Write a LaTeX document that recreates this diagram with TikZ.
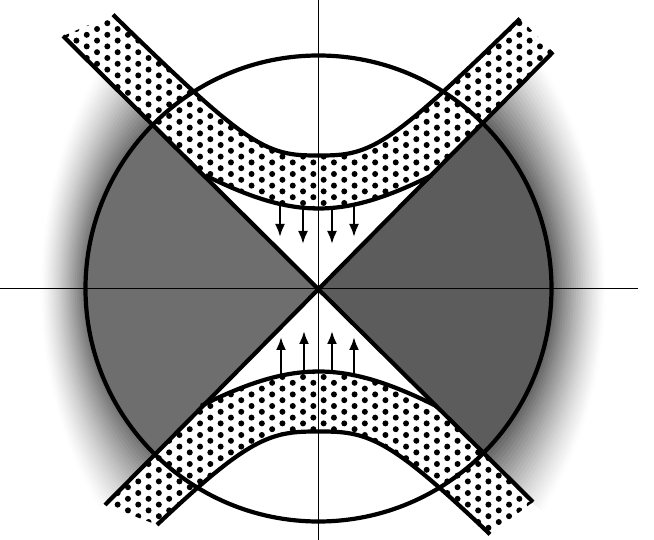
\documentclass[tikz,border=0pt]{standalone}
\usetikzlibrary{arrows.meta}
\begin{document}
\begin{tikzpicture}[x=1pt,y=-1pt,
  heavy/.style={line width=4.2pt},
  axisline/.style={line width=1.4pt},
  arr/.style={line width=2.3pt,-{Latex[length=13pt,width=10pt]}},
  declare function={
    fou(\u)=66+100*((0.67)^3+(abs(\u)/100)^3)^(1/3);
    fol(\u)=70+100*((0.73)^3+(abs(\u)/100)^3)^(1/3);
    fiu(\u)=100*sqrt(0.64+0.5*(\u/100)^2);
    fil(\u)=100*sqrt(0.6889+0.5*(\u/100)^2);
  }]
\def\cx{318.5}\def\cy{288.5}
\useasboundingbox (0,0) rectangle (654,540);
\coordinate (O) at (\cx,\cy);
% diagonal end points
\coordinate (A1) at (63,36);
\coordinate (A2) at (533,502);
\coordinate (B1) at (553,52);
\coordinate (B2) at (105,505);
% where the inner band curves meet the diagonals
\coordinate (UIr) at (\cx+113.1,\cy-113.1);
\coordinate (LIr) at (\cx+117.4,\cy+117.4);
% axes ends
\coordinate (XL) at (0,\cy);
\coordinate (XR) at (638,\cy);
\coordinate (YT) at (\cx,0);
\coordinate (YB) at (\cx,540);

\def\UB{plot[domain=-205.5:201.5,samples=90,variable=\u] ({\cx+\u},{\cy-fou(\u)}) -- (B1) -- (UIr) -- plot[domain=113.1:-113.1,samples=60,variable=\u] ({\cx+\u},{\cy-fiu(\u)}) -- (A1) -- cycle}
\def\LB{plot[domain=-161.5:171.5,samples=90,variable=\u] ({\cx+\u},{\cy+fol(\u)}) -- (A2) -- (LIr) -- plot[domain=117.4:-117.4,samples=60,variable=\u] ({\cx+\u},{\cy+fil(\u)}) -- (B2) -- cycle}

% ---- left wedge: spray and stipple
\begin{scope}
  \clip (O) -- (\cx-420,\cy-420) -- (\cx-420,\cy+420) -- cycle;
  \foreach \k in {24,...,1}{
    \pgfmathsetmacro\t{(\k-0.5)/24}
    \pgfmathsetmacro\L{58*(1-\t)^1.3}
    \fill[black!\L] (O) ellipse[x radius={233+46*\t}, y radius={233+130*\t}];
  }
  \clip (O) circle[radius=233];
  \fill[black!57] (\cx-300,\cy-300) rectangle (\cx+10,\cy+300);
\end{scope}
% ---- right wedge: spray and crosshatch
\begin{scope}
  \clip (O) -- (\cx+420,\cy-420) -- (\cx+420,\cy+420) -- cycle;
  \foreach \k in {24,...,1}{
    \pgfmathsetmacro\t{(\k-0.5)/24}
    \pgfmathsetmacro\L{64*(1-\t)^1.3}
    \fill[black!\L] (O) ellipse[x radius={233+56*\t}, y radius={233+130*\t}];
  }
  \clip (O) circle[radius=233];
  \fill[black!64] (\cx-10,\cy-300) rectangle (\cx+300,\cy+300);
\end{scope}

% ---- dotted bands
\begin{scope}
  \clip \UB;
  \foreach \i in {0,...,62}{
    \foreach \j in {0,...,19}{
      \fill ({\cx+5.15+10.3*(\i-31)},{5.8*mod(\i,2)+11.6*\j}) circle[radius=3];
    }
  }
\end{scope}
\begin{scope}
  \clip \LB;
  \foreach \i in {0,...,62}{
    \foreach \j in {31,...,47}{
      \fill ({\cx+5.15+10.3*(\i-31)},{5.8*mod(\i,2)+11.6*\j}) circle[radius=3];
    }
  }
\end{scope}

% ---- band outlines
\draw[heavy] plot[domain=-205.5:201.5,samples=90,variable=\u] ({\cx+\u},{\cy-fou(\u)});
\draw[heavy] plot[domain=-113.1:113.1,samples=60,variable=\u] ({\cx+\u},{\cy-fiu(\u)});
\draw[heavy] plot[domain=-161.5:171.5,samples=90,variable=\u] ({\cx+\u},{\cy+fol(\u)});
\draw[heavy] plot[domain=-117.4:117.4,samples=60,variable=\u] ({\cx+\u},{\cy+fil(\u)});

% ---- diagonals and circle
\draw[heavy] (A1) -- (A2);
\draw[heavy] (B1) -- (B2);
\draw[heavy] (O) circle[radius=233];

% ---- axes
\draw[axisline] (XL) -- (XR);
\draw[axisline] (YT) -- (YB);

% ---- arrows
\foreach \x/\tip in {280/237,303/244,332/244,354/237}{
  \coordinate (us) at ({\x},{\cy-fiu(\x-\cx)+1});
  \coordinate (ue) at (\x,\tip);
  \draw[arr] (us) -- (ue);
}
\foreach \x/\tip in {281/337,304/331,332/331,354/337}{
  \coordinate (ls) at ({\x},{\cy+fil(\x-\cx)-1});
  \coordinate (le) at (\x,\tip);
  \draw[arr] (ls) -- (le);
}
\end{tikzpicture}
\end{document}
